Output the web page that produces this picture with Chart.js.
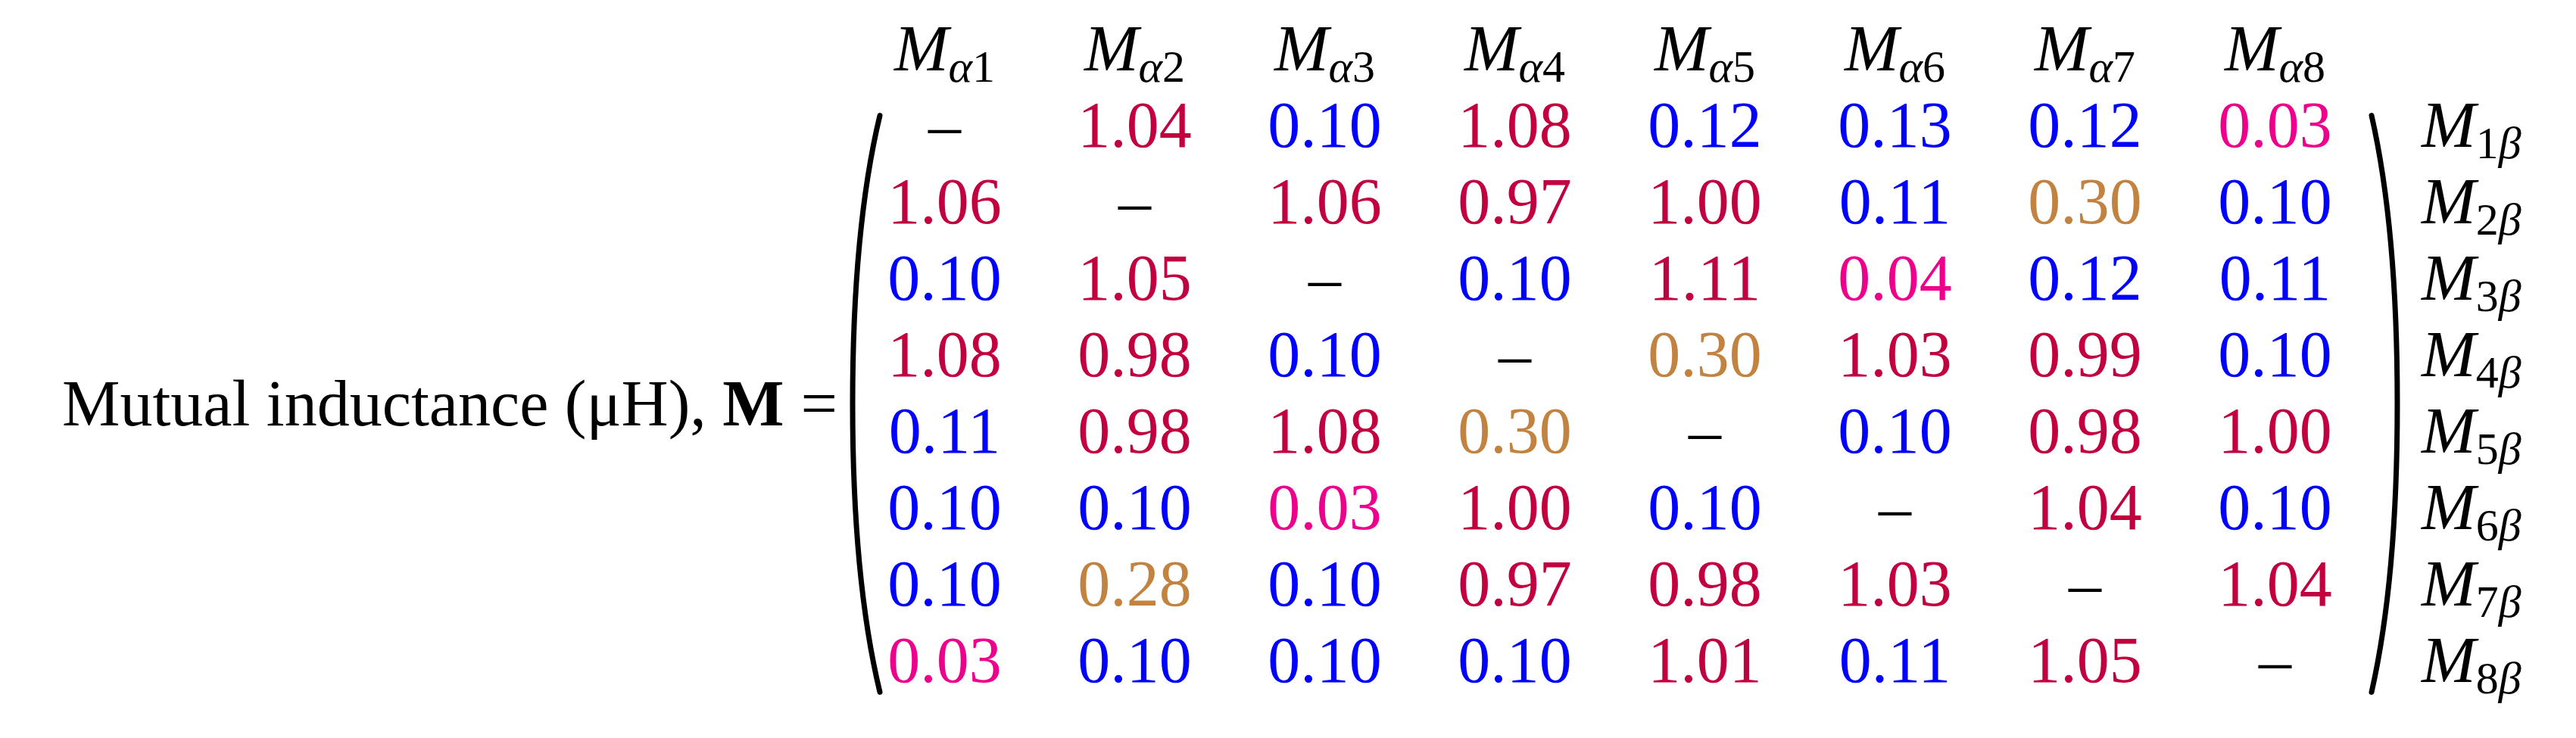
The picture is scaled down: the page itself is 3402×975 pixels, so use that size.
<!DOCTYPE html>
<html><head><meta charset="utf-8">
<script src="https://cdn.jsdelivr.net/npm/chart.js@4.4.0/dist/chart.umd.min.js"></script>
<style>html,body{margin:0;padding:0;background:#fff}#wrap{width:3402px;height:975px}</style>
</head><body><div id="wrap"><canvas id="c"></canvas></div>
<script>
const colLabels = ['1','2','3','4','5','6','7','8'];
const rowLabels = ['1','2','3','4','5','6','7','8'];
const matrix = [
 [null,1.04,0.10,1.08,0.12,0.13,0.12,0.03],
 [1.06,null,1.06,0.97,1.00,0.11,0.30,0.10],
 [0.10,1.05,null,0.10,1.11,0.04,0.12,0.11],
 [1.08,0.98,0.10,null,0.30,1.03,0.99,0.10],
 [0.11,0.98,1.08,0.30,null,0.10,0.98,1.00],
 [0.10,0.10,0.03,1.00,0.10,null,1.04,0.10],
 [0.10,0.28,0.10,0.97,0.98,1.03,null,1.04],
 [0.03,0.10,0.10,0.10,1.01,0.11,1.05,null]
];
const titleText = 'Mutual inductance (μH), ';
const pts = [];
matrix.forEach((r,i)=>r.forEach((v,j)=>pts.push({x:j+1,y:i+1,v:v})));
function colorOf(v){
  if(v===null) return '#000';
  if(v>0.9) return '#C2003F';
  if(v>=0.2) return '#C28340';
  if(v<=0.05) return '#EC008C';
  return '#0000FF';
}
const SERIF = '"Liberation Serif", "DejaVu Serif", serif';
const NUM = 86;
const SUB = 60;
const drawPlugin = {
  id:'mat',
  afterDatasetsDraw(chart){
    const ctx = chart.ctx, xs = chart.scales.x, ys = chart.scales.y;
    ctx.save();
    ctx.textBaseline='alphabetic';
    pts.forEach(p=>{
      const x = xs.getPixelForValue(p.x), y = ys.getPixelForValue(p.y);
      ctx.fillStyle = colorOf(p.v);
      ctx.textAlign='center';
      ctx.font = NUM+'px '+SERIF;
      ctx.fillText(p.v===null?'–':p.v.toFixed(2), x, y+29);
    });
    ctx.fillStyle='#000';
    colLabels.forEach((l,i)=>{
      const x = xs.getPixelForValue(i+1);
      const by = ys.getPixelForValue(1) - 72;
      ctx.font='italic '+NUM+'px '+SERIF;
      const wM = ctx.measureText('M').width;
      ctx.font='italic '+SUB+'px '+SERIF; const wa = ctx.measureText('α').width;
      ctx.font=SUB+'px '+SERIF; const wd = ctx.measureText(l).width;
      let x0 = x - (wM+wa+wd)/2;
      ctx.textAlign='left';
      ctx.font='italic '+NUM+'px '+SERIF; ctx.fillText('M',x0,by);
      ctx.font='italic '+SUB+'px '+SERIF; ctx.fillText('α',x0+wM,by+15);
      ctx.font=SUB+'px '+SERIF; ctx.fillText(l,x0+wM+wa,by+15);
    });
    rowLabels.forEach((l,i)=>{
      const y = ys.getPixelForValue(i+1)+29;
      let x0 = 3198;
      ctx.textAlign='left';
      ctx.font='italic '+NUM+'px '+SERIF; ctx.fillText('M',x0,y);
      const wM = ctx.measureText('M').width;
      ctx.font=SUB+'px '+SERIF; ctx.fillText(l,x0+wM,y+15);
      const wd = ctx.measureText(l).width;
      ctx.font='italic '+SUB+'px '+SERIF; ctx.fillText('β',x0+wM+wd,y+15);
    });
    const top = ys.getPixelForValue(1)-12, bot = ys.getPixelForValue(8)+42;
    const mid = (top+bot)/2;
    ctx.strokeStyle='#000'; ctx.lineWidth=7; ctx.lineCap='round';
    const lx = xs.getPixelForValue(0.5)+40, lm = lx-36;
    ctx.beginPath(); ctx.moveTo(lx,top);
    ctx.quadraticCurveTo(lm,top+150,lm,mid);
    ctx.quadraticCurveTo(lm,bot-150,lx,bot); ctx.stroke();
    const rx = xs.getPixelForValue(8.5)+2, rm = rx+34;
    ctx.beginPath(); ctx.moveTo(rx,top);
    ctx.quadraticCurveTo(rm,top+150,rm,mid);
    ctx.quadraticCurveTo(rm,bot-150,rx,bot); ctx.stroke();
    const ty = mid+28, tr = lm-20;
    ctx.textAlign='right';
    ctx.font=NUM+'px '+SERIF; ctx.fillText('=',tr,ty);
    const we = ctx.measureText('=').width+22;
    ctx.font='bold '+NUM+'px '+SERIF; ctx.fillText('M',tr-we,ty);
    const wb = ctx.measureText('M').width;
    ctx.font=NUM+'px '+SERIF; ctx.fillText(titleText,tr-we-wb,ty);
    ctx.restore();
  }
};
new Chart(document.getElementById('c'),{
  type:'scatter',
  data:{datasets:[{data:pts,pointRadius:0,pointHoverRadius:0}]},
  options:{
    responsive:true,maintainAspectRatio:false,animation:false,
    layout:{padding:{left:1122,right:272,top:114,bottom:52}},
    plugins:{legend:{display:false},tooltip:{enabled:false}},
    scales:{
      x:{type:'linear',min:0.5,max:8.5,display:false},
      y:{type:'linear',min:0.5,max:8.5,reverse:true,display:false}
    }
  },
  plugins:[drawPlugin]
});
</script></body></html>
